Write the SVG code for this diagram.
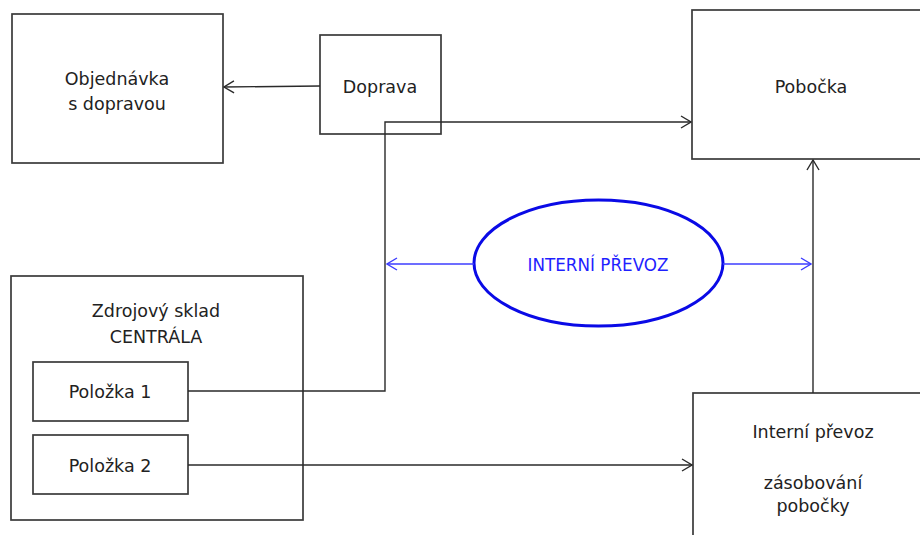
<svg xmlns="http://www.w3.org/2000/svg" width="920" height="535" viewBox="0 0 920 535">
<style>
.box{fill:#fff;stroke:#3a3a3a;stroke-width:1.7}
.t{font-family:"DejaVu Sans",Verdana,sans-serif;font-size:17.5px;fill:#222;text-anchor:middle}
.bt{font-family:"DejaVu Sans",Verdana,sans-serif;font-size:16.8px;fill:#1f1fff;text-anchor:middle}
.c{fill:none;stroke:#2a2a2a;stroke-width:1.4}
.cb{fill:none;stroke:#3c3cff;stroke-width:1.4}
</style>
<defs>
<marker id="ah" viewBox="0 0 12 14" refX="11" refY="7" markerWidth="12" markerHeight="14" markerUnits="userSpaceOnUse" orient="auto">
<path d="M1,1 L11,7 L1,13" fill="none" stroke="#2a2a2a" stroke-width="1.4"/>
</marker>
<marker id="ahb" viewBox="0 0 12 14" refX="11" refY="7" markerWidth="12" markerHeight="14" markerUnits="userSpaceOnUse" orient="auto">
<path d="M1,1 L11,7 L1,13" fill="none" stroke="#3c3cff" stroke-width="1.4"/>
</marker>
</defs>
<rect width="920" height="535" fill="#fff"/>
<g id="objednavka">
<rect class="box" x="12" y="14" width="211" height="149"/>
<text class="t" x="117" y="85">Objednávka</text>
<text class="t" x="117" y="110">s dopravou</text>
</g>
<g id="doprava">
<rect class="box" x="320" y="35" width="121" height="99"/>
<text class="t" x="380" y="93">Doprava</text>
</g>
<g id="pobocka">
<rect class="box" x="692" y="10" width="240" height="149"/>
<text class="t" x="811" y="93">Pobočka</text>
</g>
<g id="zdrojovy-sklad">
<rect class="box" x="11" y="276" width="292" height="244"/>
<text class="t" x="156" y="317">Zdrojový sklad</text>
<text class="t" x="156" y="343">CENTRÁLA</text>
</g>
<g id="polozka1">
<rect class="box" x="33" y="362" width="155" height="59"/>
<text class="t" x="110" y="398">Položka 1</text>
</g>
<g id="polozka2">
<rect class="box" x="33" y="435" width="155" height="59"/>
<text class="t" x="110" y="472">Položka 2</text>
</g>
<g id="interni-prevoz-box">
<rect class="box" x="693" y="393" width="240" height="160"/>
<text class="t" x="813" y="438">Interní převoz</text>
<text class="t" x="813" y="489">zásobování</text>
<text class="t" x="813" y="512">pobočky</text>
</g>
<g id="interni-prevoz-ellipse">
<ellipse cx="598.5" cy="263" rx="124.5" ry="63" fill="#fff" stroke="#0a0ae6" stroke-width="3"/>
<text class="bt" x="598" y="271">INTERNÍ PŘEVOZ</text>
</g>
<g id="connectors">
<path class="c" d="M320,86 L224,87" marker-end="url(#ah)"/>
<path class="c" d="M188,391 L385,391 L385,122 L691,122" marker-end="url(#ah)"/>
<path class="c" d="M188,465 L692,465" marker-end="url(#ah)"/>
<path class="c" d="M813,393 L813,160" marker-end="url(#ah)"/>
<path class="cb" d="M474,264 L387,264" marker-end="url(#ahb)"/>
<path class="cb" d="M723,264 L811,264" marker-end="url(#ahb)"/>
</g>
</svg>
